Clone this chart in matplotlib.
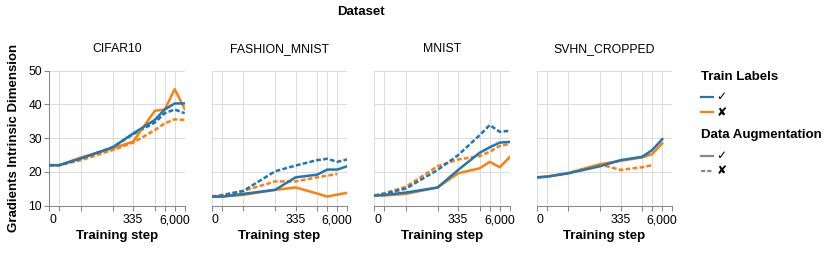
import numpy as np
import matplotlib
matplotlib.use("Agg")
import matplotlib.pyplot as plt
from matplotlib.lines import Line2D

plt.rcParams['font.family'] = ['Liberation Sans', 'DejaVu Sans']

# ---------------- data ----------------
datasets = ["CIFAR10", "FASHION_MNIST", "MNIST", "SVHN_CROPPED"]
steps = [0, 1, 8, 80, 335, 1500, 3000, 6000, 12000]
tick_labels = ["0", "", "", "", "335", "", "", "6,000", ""]
nan = np.nan

# CIFAR10
cifar_lab_aug = [22, 22, 24, 27.3, 31.4, 35.4, 38.5, 40.3, 40.3]
cifar_lab_noaug = [22, 22, 24, 27.3, 31.2, 34.6, 37.4, 38.5, 37.4]
cifar_nolab_aug = [22, 22, 24.3, 27, 29, 38.1, 38.5, 44.5, 38.7]
cifar_nolab_noaug = [22, 22, 23.5, 26.5, 28.7, 32.4, 34.4, 35.6, 35.4]
# FASHION_MNIST
fm_lab_aug = [12.7, 12.7, 13.5, 14.7, 18.4, 19.2, 20.7, 20.7, 21.7]
fm_lab_noaug = [12.7, 13.0, 14.4, 20.2, 21.9, 23.5, 23.9, 23.0, 23.7]
fm_nolab_aug = [12.7, 12.7, 13.2, 14.7, 15.4, 13.6, 12.7, 13.3, 13.8]
fm_nolab_noaug = [12.7, 13.2, 14.4, 17.2, 17.2, 18.4, 18.9, 19.4, nan]
# MNIST
mn_lab_aug = [13, 13.2, 13.9, 15.4, 20.6, 25.7, 27.3, 28.7, 28.9]
mn_lab_noaug = [13, 13.5, 15.1, 20.6, 25, 30.9, 33.9, 31.9, 32.2]
mn_nolab_aug = [13, 13, 13.5, 15.4, 19.6, 21.1, 23, 21.4, 24.4]
mn_nolab_noaug = [13, 13.7, 15.6, 21.7, 23.7, 24.7, 26, 27.7, 28.3]
# SVHN_CROPPED
sv_lab_aug = [18.4, 18.6, 19.6, 21.7, 23.5, 24.5, 26.5, 29.7, nan]
sv_lab_noaug = [nan] * 9
sv_nolab_aug = [18.4, 18.6, 19.7, 22.3, 23.3, 24.3, 25.3, 28.5, nan]
sv_nolab_noaug = [18.4, 18.6, 19.7, 22.2, 20.6, 21.4, 22.0, nan, nan]

series = {
    "CIFAR10": (cifar_lab_aug, cifar_lab_noaug, cifar_nolab_aug, cifar_nolab_noaug),
    "FASHION_MNIST": (fm_lab_aug, fm_lab_noaug, fm_nolab_aug, fm_nolab_noaug),
    "MNIST": (mn_lab_aug, mn_lab_noaug, mn_nolab_aug, mn_nolab_noaug),
    "SVHN_CROPPED": (sv_lab_aug, sv_lab_noaug, sv_nolab_aug, sv_nolab_noaug),
}

BLUE = "#1f77b4"
ORANGE = "#ff7f0e"
GRID = "#dddddd"
DOMAIN = "#888888"

W, H = 830, 258
fig = plt.figure(figsize=(W / 100, H / 100), dpi=100)


def fx(px):
    return px / W


def fy(py):
    return 1 - py / H


def fwd(x):
    x = np.asarray(x, dtype=float)
    return np.sign(x) * np.log10(1 + np.abs(x))


def inv(y):
    y = np.asarray(y, dtype=float)
    return np.sign(y) * (10 ** np.abs(y) - 1)


lefts = [49.3, 211.8, 374.3, 536.8]
pw = 135.4
top, bottom = 70.7, 205.7
dash = (0, (1.9, 0.9))
lw = 1.8

for i, name in enumerate(datasets):
    ax = fig.add_axes([fx(lefts[i]), fy(bottom), fx(pw), (bottom - top) / H])
    ax.set_xscale('function', functions=(fwd, inv))
    ax.set_xlim(0, 12000)
    ax.set_ylim(10, 50)
    la, ln, na, nn = series[name]
    ax.plot(steps, nn, color=ORANGE, lw=lw, linestyle=dash, zorder=2)
    ax.plot(steps, ln, color=BLUE, lw=lw, linestyle=dash, zorder=3)
    ax.plot(steps, na, color=ORANGE, lw=lw, zorder=4)
    ax.plot(steps, la, color=BLUE, lw=lw, zorder=5)

    ax.set_xticks(steps)
    ax.set_xticklabels(tick_labels)
    ax.get_xticklabels()[0].set_ha('left')
    ax.set_yticks([10, 20, 30, 40, 50])
    ax.minorticks_off()
    ax.grid(True, color=GRID, lw=0.75, zorder=0)
    ax.set_axisbelow(True)
    for s in ["top", "right"]:
        ax.spines[s].set_visible(False)
    ax.spines["bottom"].set_color(DOMAIN)
    ax.spines["bottom"].set_linewidth(0.75)
    ax.tick_params(axis='x', colors=DOMAIN, length=3.6, width=0.75,
                   labelcolor='black', labelsize=8.7, pad=2.5)
    if i == 0:
        ax.spines["left"].set_color(DOMAIN)
        ax.spines["left"].set_linewidth(0.75)
        ax.tick_params(axis='y', colors=DOMAIN, length=3.6, width=0.75,
                       labelcolor='black', labelsize=8.7, pad=1.5)
    else:
        ax.spines["left"].set_visible(False)
        ax.tick_params(axis='y', left=False, labelleft=False)
    ax.set_xlabel("Training step", fontsize=9.5, fontweight='bold', labelpad=3)
    fig.text(fx(lefts[i] + pw / 2), fy(49), name, ha='center', va='center', fontsize=8.8)

fig.text(fx(360.5), fy(12.3), "Dataset", ha='center', va='center', fontsize=9.5, fontweight='bold')
fig.text(fx(14), fy(138), "Gradients Intrinsic Dimension", rotation=90,
         ha='center', va='center', fontsize=9.5, fontweight='bold')

# legend
lx = 700.5
fig.text(fx(lx), fy(77), "Train Labels", ha='left', va='center', fontsize=9.5, fontweight='bold')
fig.text(fx(lx), fy(135), "Data Augmentation", ha='left', va='center', fontsize=9.5, fontweight='bold')
leg_items = [
    (96.7, BLUE, '-', "✓"),
    (112.3, ORANGE, '-', "✘"),
    (156.0, "#888888", '-', "✓"),
    (170.7, "#888888", dash, "✘"),
]
for yy, c, ls, lab in leg_items:
    fig.add_artist(Line2D([fx(lx), fx(lx + 12)], [fy(yy), fy(yy)], color=c, lw=1.6,
                          linestyle=ls, transform=fig.transFigure))
    fig.text(fx(lx + 16), fy(yy), lab, ha='left', va='center', fontsize=8.7,
             family=['DejaVu Sans'])

fig.savefig("out.png", dpi=100)
